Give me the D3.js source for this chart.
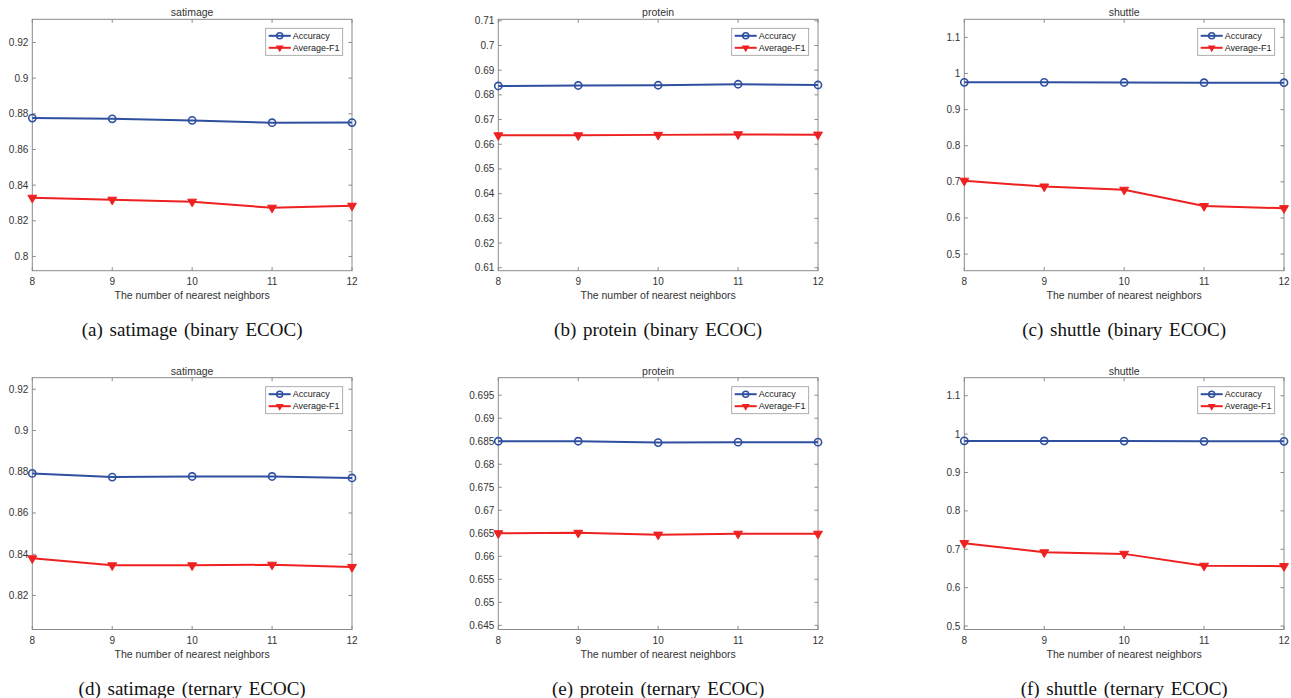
<!DOCTYPE html>
<html>
<head>
<meta charset="utf-8">
<script src="https://cdn.jsdelivr.net/npm/d3@7"></script>
<style>
  body { margin: 0; background: #fff; }
  svg text { font-family: Arial, "Liberation Sans", sans-serif; }
</style>
</head>
<body>
<div id="chart"></div>
<script>
"use strict";

// neighbours on x axis
var neighbors = [8, 9, 10, 11, 12];

// panel titles + captions
var titles = ["satimage", "protein", "shuttle", "satimage", "protein", "shuttle"];
var captions = [
  "(a)  satimage (binary ECOC)",
  "(b)  protein (binary ECOC)",
  "(c)  shuttle (binary ECOC)",
  "(d)  satimage (ternary ECOC)",
  "(e)  protein (ternary ECOC)",
  "(f)  shuttle (ternary ECOC)"
];

// accuracy per panel
var accuracy = [
  [0.8776, 0.8772, 0.8763, 0.8750, 0.8751],
  [0.6836, 0.6838, 0.6839, 0.6843, 0.6840],
  [0.9755, 0.9755, 0.9750, 0.9745, 0.9745],
  [0.8792, 0.8774, 0.8777, 0.8777, 0.8770],
  [0.6850, 0.6850, 0.6847, 0.6848, 0.6848],
  [0.9823, 0.9822, 0.9820, 0.9812, 0.9812]
];

// average F1 per panel
var averageF1 = [
  [0.8329, 0.8318, 0.8307, 0.8273, 0.8284],
  [0.6636, 0.6636, 0.6638, 0.6640, 0.6639],
  [0.703, 0.687, 0.678, 0.633, 0.627],
  [0.8380, 0.8346, 0.8346, 0.8349, 0.8338],
  [0.6650, 0.6651, 0.6647, 0.6649, 0.6649],
  [0.716, 0.692, 0.688, 0.657, 0.656]
];

// y limits and ticks
var yDomains = [
  [0.792, 0.933], [0.6088, 0.7106], [0.454, 1.15],
  [0.8035, 0.9256], [0.6441, 0.6988], [0.491, 1.147]
];
var yTicks = [
  [0.8, 0.82, 0.84, 0.86, 0.88, 0.9, 0.92],
  [0.61, 0.62, 0.63, 0.64, 0.65, 0.66, 0.67, 0.68, 0.69, 0.7, 0.71],
  [0.5, 0.6, 0.7, 0.8, 0.9, 1, 1.1],
  [0.82, 0.84, 0.86, 0.88, 0.9, 0.92],
  [0.645, 0.65, 0.655, 0.66, 0.665, 0.67, 0.675, 0.68, 0.685, 0.69, 0.695],
  [0.5, 0.6, 0.7, 0.8, 0.9, 1, 1.1]
];

var width = 1291, height = 698;
var colLeft = [32.3, 498.3, 964.3];
var plotW = 319.7;
var rowTop = [19.3, 377.7];
var rowBottom = [270.7, 629.5];

var blue = "#2f4fa0";
var red = "#ee2020";
var axisColor = "#8a8a8a";
var textColor = "#333";

var svg = d3.select("#chart").append("svg")
  .attr("width", width)
  .attr("height", height);

var fmt = function(v) { return String(+v.toFixed(3)); };

function drawPanel(i) {
  var col = i % 3, row = Math.floor(i / 3);
  var x0 = colLeft[col], y0 = rowTop[row], y1 = rowBottom[row];

  var x = d3.scaleLinear().domain([8, 12]).range([x0, x0 + plotW]);
  var y = d3.scaleLinear().domain(yDomains[i]).range([y1, y0]);

  var g = svg.append("g");

  // box
  g.append("rect")
    .attr("x", x0).attr("y", y0)
    .attr("width", plotW).attr("height", y1 - y0)
    .attr("fill", "none").attr("stroke", axisColor).attr("stroke-width", 1);

  // inward ticks on all sides (matlab style)
  var tk = 3.5;
  neighbors.forEach(function(n) {
    g.append("line").attr("x1", x(n)).attr("x2", x(n)).attr("y1", y1).attr("y2", y1 - tk)
      .attr("stroke", axisColor);
    g.append("line").attr("x1", x(n)).attr("x2", x(n)).attr("y1", y0).attr("y2", y0 + tk)
      .attr("stroke", axisColor);
    g.append("text").attr("x", x(n)).attr("y", y1 + 14)
      .attr("text-anchor", "middle").attr("font-size", 10).attr("fill", textColor)
      .text(n);
  });
  yTicks[i].forEach(function(v) {
    g.append("line").attr("x1", x0).attr("x2", x0 + tk).attr("y1", y(v)).attr("y2", y(v))
      .attr("stroke", axisColor);
    g.append("line").attr("x1", x0 + plotW).attr("x2", x0 + plotW - tk).attr("y1", y(v)).attr("y2", y(v))
      .attr("stroke", axisColor);
    g.append("text").attr("x", x0 - 4).attr("y", y(v)).attr("dy", "0.35em")
      .attr("text-anchor", "end").attr("font-size", 10).attr("fill", textColor)
      .text(fmt(v));
  });

  // title, x label, caption
  g.append("text").attr("x", x0 + plotW / 2).attr("y", y0 - 3)
    .attr("text-anchor", "middle").attr("font-size", 10.5).attr("fill", textColor)
    .text(titles[i]);
  g.append("text").attr("x", x0 + plotW / 2).attr("y", y1 + 28)
    .attr("text-anchor", "middle").attr("font-size", 10.5).attr("fill", textColor)
    .text("The number of nearest neighbors");
  g.append("text").attr("x", x0 + plotW / 2).attr("y", y1 + 65)
    .attr("text-anchor", "middle").attr("font-size", 19).attr("fill", "#111")
    .style("font-family", "'Liberation Serif', 'Times New Roman', serif")
    .style("word-spacing", "2px")
    .text(captions[i]);

  var line = d3.line()
    .x(function(d, k) { return x(neighbors[k]); })
    .y(function(d) { return y(d); });

  // accuracy
  g.append("path").datum(accuracy[i]).attr("d", line)
    .attr("fill", "none").attr("stroke", blue).attr("stroke-width", 2);
  g.selectAll(".acc").data(accuracy[i]).enter().append("circle")
    .attr("cx", function(d, k) { return x(neighbors[k]); })
    .attr("cy", function(d) { return y(d); })
    .attr("r", 3.6)
    .attr("fill", "none").attr("stroke", blue).attr("stroke-width", 1.6);

  // average F1
  g.append("path").datum(averageF1[i]).attr("d", line)
    .attr("fill", "none").attr("stroke", red).attr("stroke-width", 2);
  var tri = d3.symbol().type(d3.symbolTriangle).size(34);
  g.selectAll(".f1").data(averageF1[i]).enter().append("path")
    .attr("d", tri)
    .attr("transform", function(d, k) { return "translate(" + x(neighbors[k]) + "," + y(d) + ") rotate(180)"; })
    .attr("fill", red).attr("stroke", red).attr("stroke-width", 1);

  // legend
  var lw = 77, lh = 27;
  var lx = x0 + plotW - 9.3 - lw, ly = y0 + 9;
  var lg = g.append("g");
  lg.append("rect").attr("x", lx).attr("y", ly).attr("width", lw).attr("height", lh)
    .attr("fill", "#fff").attr("stroke", "#999").attr("stroke-width", 0.8);
  [["Accuracy", blue, "o"], ["Average-F1", red, "v"]].forEach(function(it, k) {
    var yy = ly + 7.5 + k * 12;
    lg.append("line").attr("x1", lx + 3).attr("x2", lx + 25).attr("y1", yy).attr("y2", yy)
      .attr("stroke", it[1]).attr("stroke-width", 2);
    if (it[2] === "o") {
      lg.append("circle").attr("cx", lx + 14).attr("cy", yy).attr("r", 3)
        .attr("fill", "none").attr("stroke", it[1]).attr("stroke-width", 1.5);
    } else {
      lg.append("path").attr("d", d3.symbol().type(d3.symbolTriangle).size(26))
        .attr("transform", "translate(" + (lx + 14) + "," + yy + ") rotate(180)")
        .attr("fill", it[1]);
    }
    lg.append("text").attr("x", lx + 27).attr("y", yy).attr("dy", "0.35em")
      .attr("font-size", 9).attr("fill", "#222").text(it[0]);
  });
}

for (var i = 0; i < 6; i++) drawPanel(i);
</script>
</body>
</html>
